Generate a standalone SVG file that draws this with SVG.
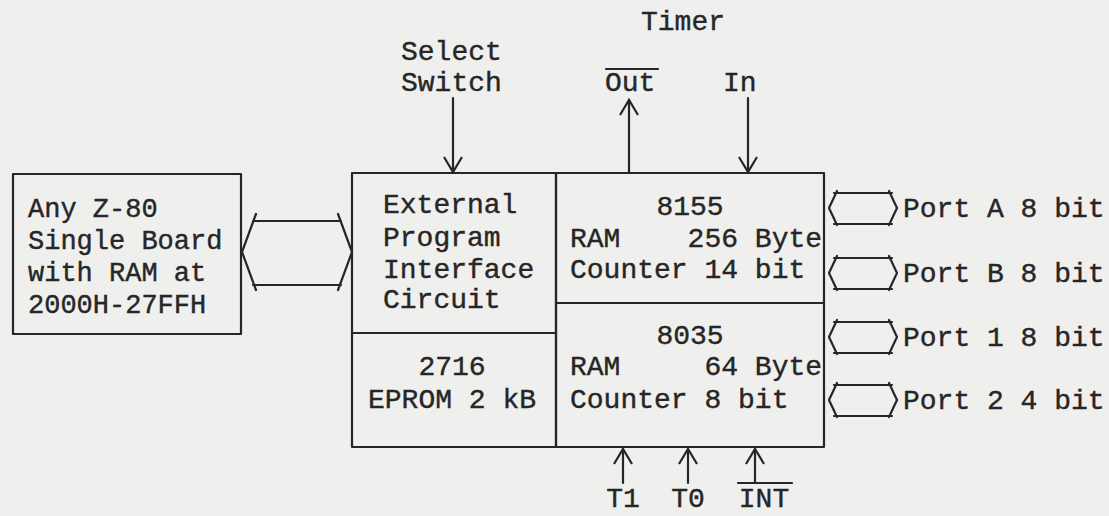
<svg xmlns="http://www.w3.org/2000/svg" width="1109" height="516" viewBox="0 0 1109 516">
<defs>
<style>
.t{font-family:"Liberation Mono","Courier New",monospace;font-size:28px;fill:#262626;stroke:#262626;stroke-width:0.4}
.s{font-size:27px}
.m{text-anchor:middle}
.ln{fill:none;stroke:#262626;stroke-width:2.2;stroke-linecap:round;stroke-linejoin:round}
</style>
<marker id="ah" viewBox="0 0 20 20" refX="17" refY="10" markerWidth="20" markerHeight="20" markerUnits="userSpaceOnUse" orient="auto">
<path d="M2,1 L17,10 L2,19" fill="none" stroke="#262626" stroke-width="2.2"/>
</marker>
</defs>
<rect width="1109" height="516" fill="#efefed"/>

<g id="host">
<rect class="ln" x="13" y="174" width="228" height="160"/>
<text class="t s" x="28" y="217">Any Z-80</text>
<text class="t s" x="28" y="249">Single Board</text>
<text class="t s" x="28" y="281">with RAM at</text>
<text class="t s" x="28" y="313">2000H-27FFH</text>
</g>

<g id="interface">
<rect class="ln" x="352" y="173" width="204" height="160"/>
<text class="t" x="383" y="213">External</text>
<text class="t" x="383" y="246">Program</text>
<text class="t" x="383" y="278">Interface</text>
<text class="t" x="383" y="308">Circuit</text>
</g>

<g id="eprom">
<rect class="ln" x="352" y="333" width="204" height="114"/>
<text class="t m" x="452" y="375">2716</text>
<text class="t m" x="452" y="408">EPROM 2 kB</text>
</g>

<g id="i8155">
<rect class="ln" x="556" y="173" width="268" height="130"/>
<text class="t m" x="690" y="215">8155</text>
<text class="t" x="570" y="247" xml:space="preserve">RAM    256 Byte</text>
<text class="t" x="570" y="278">Counter 14 bit</text>
</g>

<g id="i8035">
<rect class="ln" x="556" y="303" width="268" height="144"/>
<text class="t m" x="690" y="344">8035</text>
<text class="t" x="570" y="375" xml:space="preserve">RAM     64 Byte</text>
<text class="t" x="570" y="408">Counter 8 bit</text>
</g>

<g id="labels">
<text class="t m" x="683" y="30">Timer</text>
<text class="t" x="401" y="60">Select</text>
<text class="t" x="401" y="91">Switch</text>
<text class="t" x="605" y="91">Out</text>
<line class="ln" x1="606" y1="69" x2="658" y2="69"/>
<text class="t" x="723" y="91">In</text>
<text class="t m" x="623" y="507">T1</text>
<text class="t m" x="688" y="507">T0</text>
<text class="t m" x="764" y="507">INT</text>
<text class="t" x="903" y="217">Port A 8 bit</text>
<text class="t" x="903" y="282">Port B 8 bit</text>
<text class="t" x="903" y="346">Port 1 8 bit</text>
<text class="t" x="903" y="409">Port 2 4 bit</text>
</g>

<g id="connectors">
<line class="ln" x1="453" y1="98" x2="453" y2="172" marker-end="url(#ah)"/>
<line class="ln" x1="629" y1="173" x2="629" y2="100" marker-end="url(#ah)"/>
<line class="ln" x1="748" y1="98" x2="748" y2="172" marker-end="url(#ah)"/>
<line class="ln" x1="623" y1="483" x2="623" y2="449" marker-end="url(#ah)"/>
<line class="ln" x1="688" y1="483" x2="688" y2="449" marker-end="url(#ah)"/>
<line class="ln" x1="755" y1="483" x2="755" y2="449" marker-end="url(#ah)"/>
<line class="ln" x1="738" y1="483" x2="792" y2="483"/>
<g id="bus-host">
<path class="ln" d="M256,214 L242,252 L256,290 M338,214 L352,252 L338,290 M253,221 L341,221 M253,285 L341,285"/>
</g>
<g id="bus-ports">
<path class="ln" d="M837,191 L829,208 L837,225 M889,191 L897,208 L889,225 M834,193 L892,193 M834,224 L892,224"/>
<path class="ln" d="M837,256 L829,273 L837,290 M889,256 L897,273 L889,290 M834,258 L892,258 M834,289 L892,289"/>
<path class="ln" d="M837,320 L829,337 L837,354 M889,320 L897,337 L889,354 M834,322 L892,322 M834,353 L892,353"/>
<path class="ln" d="M837,383 L829,400 L837,417 M889,383 L897,400 L889,417 M834,385 L892,385 M834,416 L892,416"/>
</g>
</g>
</svg>
